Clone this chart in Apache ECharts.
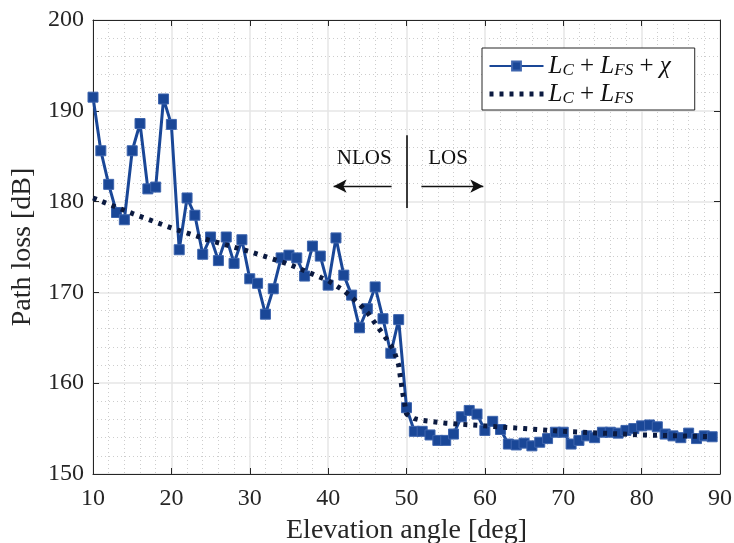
<!DOCTYPE html>
<html>
<head>
<meta charset="utf-8">
<script src="https://cdn.jsdelivr.net/npm/echarts@6/dist/echarts.min.js"></script>
<style>
  html, body { margin: 0; padding: 0; background: #fff; }
  #chart { width: 734px; height: 543px; }
</style>
</head>
<body>
<div id="chart"></div>
<script>
// elevation angle [deg] for measured points
var angles = [10, 11, 12, 13, 14, 15, 16, 17, 18, 19,
	20, 21, 22, 23, 24, 25, 26, 27, 28, 29,
	30, 31, 32, 33, 34, 35, 36, 37, 38, 39,
	40, 41, 42, 43, 44, 45, 46, 47, 48, 49,
	50, 51, 52, 53, 54, 55, 56, 57, 58, 59,
	60, 61, 62, 63, 64, 65, 66, 67, 68, 69,
	70, 71, 72, 73, 74, 75, 76, 77, 78, 79,
	80, 81, 82, 83, 84, 85, 86, 87, 88, 89];

// L_C + L_FS + chi
var pathLoss = [191.5, 185.6, 181.9, 178.8, 178.0, 185.6, 188.6, 181.4, 181.6, 191.3,
	188.5, 174.7, 180.4, 178.5, 174.2, 176.1, 173.5, 176.1, 173.2, 175.8,
	171.5, 171.0, 167.6, 170.4, 173.8, 174.1, 173.8, 171.8, 175.1, 174.0,
	170.8, 176.0, 171.9, 169.7, 166.1, 168.2, 170.6, 167.1, 163.3, 167.0,
	157.3, 154.7, 154.7, 154.3, 153.7, 153.7, 154.4, 156.3, 157.0, 156.6,
	154.8, 155.8, 154.9, 153.3, 153.2, 153.4, 153.1, 153.5, 153.9, 154.6,
	154.6, 153.3, 153.7, 154.2, 154.0, 154.6, 154.6, 154.5, 154.8, 155.0,
	155.3, 155.4, 155.2, 154.4, 154.2, 154.0, 154.5, 153.9, 154.2, 154.1];

// L_C + L_FS (model curve)
var modelAngles = [10, 15, 20, 25, 30, 35, 40, 42, 44, 45, 46, 47, 48, 48.5, 49, 49.5, 50, 51, 52, 55, 60, 65, 70, 75, 80, 85, 89];
var modelLoss = [180.4, 178.7, 177.1, 175.7, 174.5, 173.1, 171.3, 170.2, 168.7, 167.8, 166.6, 165.4, 164.2, 163.3, 162.0, 159.0, 156.6, 156.1, 155.9, 155.6, 155.3, 155.0, 154.7, 154.5, 154.3, 154.2, 154.1];

var seriesNames = ['L_C + L_FS + chi', 'L_C + L_FS'];

var FONT = '"Liberation Serif", "DejaVu Serif", serif';
var BLUE = '#1a4797';
var NAVY = '#0b1a40';
var AXIS = '#262626';

function pairs(xs, ys) {
	var out = [];
	for (var i = 0; i < xs.length; i++) out.push([xs[i], ys[i]]);
	return out;
}

var chart = echarts.init(document.getElementById('chart'));

function axisCommon(extra) {
	var base = {
		type: 'value',
		axisLine: { show: true, lineStyle: { color: AXIS, width: 1 } },
		axisTick: { show: true, inside: true, length: 6, lineStyle: { color: AXIS } },
		axisLabel: { color: '#262626', fontFamily: FONT, fontSize: 24 },
		splitLine: { show: false },
		minorSplitLine: { show: false }
	};
	for (var k in extra) base[k] = extra[k];
	return base;
}

chart.setOption({
	animation: false,
	backgroundColor: '#fff',
	grid: { left: 93, right: 14, top: 20, bottom: 69, outerBoundsMode: 'none', containLabel: false },
	legend: {
		data: [
			{ name: seriesNames[0] },
			{ name: seriesNames[1], itemStyle: { opacity: 0 }, lineStyle: { color: NAVY, width: 5, type: [4, 6], cap: 'butt' } }
		],
		orient: 'vertical',
		left: 482,
		top: 48,
		padding: [5, 24, 3, 5],
		itemGap: 2,
		itemWidth: 54,
		itemHeight: 11,
		backgroundColor: '#fff',
		borderColor: AXIS,
		borderWidth: 1,
		borderRadius: 0,
		formatter: function (name) {
			if (name === seriesNames[0]) {
				return '{i|L}{s|C}{n| + }{i|L}{s|FS}{n| + }{i|χ}';
			}
			return '{i|L}{s|C}{n| + }{i|L}{s|FS}';
		},
		textStyle: {
			color: '#111',
			fontFamily: FONT,
			rich: {
				i: { fontFamily: FONT, fontSize: 25, fontStyle: 'italic', color: '#111', lineHeight: 29 },
				s: { fontFamily: FONT, fontSize: 17, fontStyle: 'italic', color: '#111', lineHeight: 29, padding: [9, 0, 0, 0] },
				n: { fontFamily: FONT, fontSize: 25, color: '#111', lineHeight: 29 }
			}
		}
	},
	xAxis: [
		axisCommon({
			min: 10, max: 90, interval: 10,
			name: 'Elevation angle [deg]',
			nameLocation: 'middle',
			nameGap: 43,
			nameTextStyle: { fontFamily: FONT, fontSize: 28, color: '#262626' },
			axisLabel: { color: '#262626', fontFamily: FONT, fontSize: 24, margin: 13 },
			splitLine: { show: true, lineStyle: { color: '#e6e6e6', width: 1.5 } },
			minorTick: { show: false, splitNumber: 5 },
			minorSplitLine: { show: true, lineStyle: { color: '#cdcdcd', type: [1, 3], width: 1 } }
		}),
		axisCommon({ min: 10, max: 90, interval: 10, position: 'top', axisLabel: { show: false } })
	],
	yAxis: [
		axisCommon({
			min: 150, max: 200, interval: 10,
			name: 'Path loss [dB]',
			nameLocation: 'middle',
			nameGap: 54,
			nameTextStyle: { fontFamily: FONT, fontSize: 28, color: '#262626' },
			axisLabel: { color: '#262626', fontFamily: FONT, fontSize: 24, margin: 9 },
			splitLine: { show: true, lineStyle: { color: '#e6e6e6', width: 1.5 } },
			minorTick: { show: false, splitNumber: 5 },
			minorSplitLine: { show: true, lineStyle: { color: '#cdcdcd', type: [1, 3], width: 1 } }
		}),
		axisCommon({ min: 150, max: 200, interval: 10, position: 'right', axisLabel: { show: false } })
	],
	series: [
		{
			name: seriesNames[0],
			type: 'line',
			data: pairs(angles, pathLoss),
			symbol: 'rect',
			symbolSize: 10,
			showSymbol: true,
			lineStyle: { color: BLUE, width: 3 },
			itemStyle: { color: BLUE, borderColor: '#3d64ad', borderWidth: 1 },
			z: 3
		},
		{
			name: seriesNames[1],
			type: 'line',
			data: pairs(modelAngles, modelLoss),
			symbol: 'none',
			lineStyle: { color: NAVY, width: 5, type: [4, 6], cap: 'butt' },
			itemStyle: { color: NAVY },
			z: 4,
			markLine: {
				silent: true,
				animation: false,
				label: { show: false },
				data: [
					[{ coord: [50, 187.3], symbol: 'none' }, { coord: [50, 179.3], symbol: 'none', lineStyle: { color: '#000', width: 1.5, type: 'solid' } }],
					[{ coord: [48.1, 181.7], symbol: 'none' }, { coord: [40.7, 181.7], symbol: 'arrow', symbolSize: [10, 13], lineStyle: { color: '#111', width: 1.3, type: 'solid' } }],
					[{ coord: [51.9, 181.7], symbol: 'none' }, { coord: [59.8, 181.7], symbol: 'arrow', symbolSize: [10, 13], lineStyle: { color: '#111', width: 1.3, type: 'solid' } }]
				],
				lineStyle: { color: '#111', width: 1.3, type: 'solid' }
			},
			markPoint: {
				silent: true,
				symbol: 'circle',
				symbolSize: 0,
				label: { show: true, fontFamily: FONT, fontSize: 21, color: '#111', position: 'inside' },
				data: [
					{ coord: [44.6, 184.8], value: 'NLOS', label: { formatter: 'NLOS' } },
					{ coord: [55.3, 184.8], value: 'LOS', label: { formatter: 'LOS' } }
				]
			}
		}
	]
});
</script>
</body>
</html>
